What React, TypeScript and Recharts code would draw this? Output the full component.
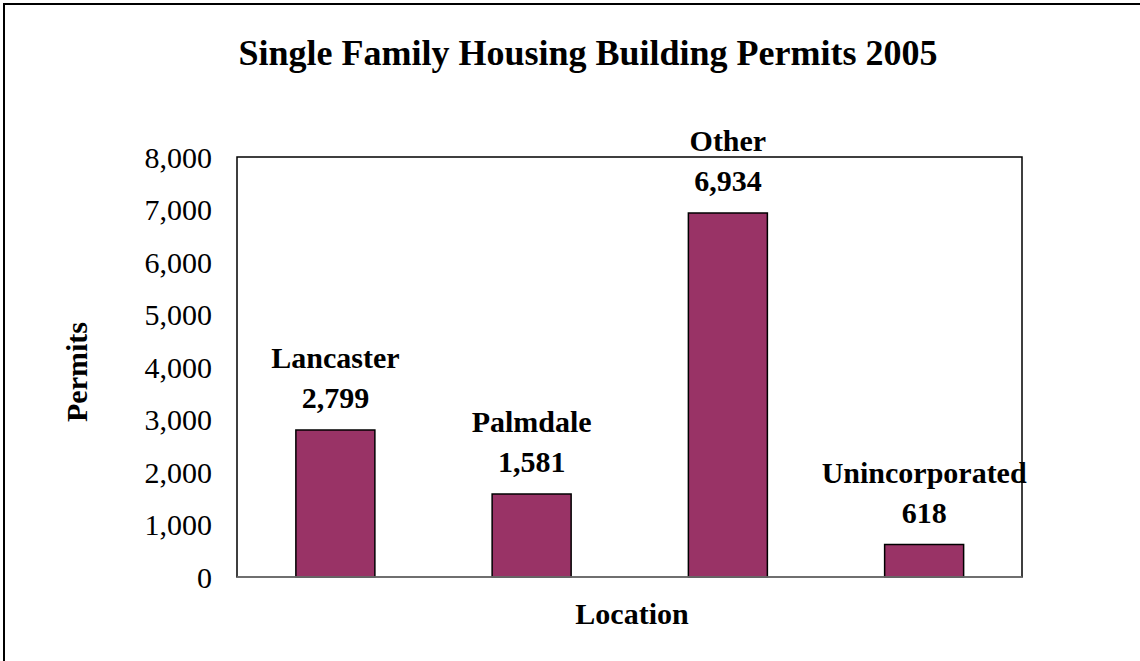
import { BarChart, Bar, XAxis, YAxis, LabelList, ReferenceArea, ReferenceLine } from 'recharts';

const locations = ['Lancaster', 'Palmdale', 'Other', 'Unincorporated'];
const permits = [2799, 1581, 6934, 618];
const yTicks = [0, 1000, 2000, 3000, 4000, 5000, 6000, 7000, 8000];

const data = locations.map((name, i) => ({ name, permits: permits[i] }));

const FONT = '"Liberation Serif", "Times New Roman", serif';

// two line label above each bar: location name, then the count
function BarLabel(props: any) {
  const { x, y, width, index, value } = props;
  const cx = x + width / 2;
  return (
    <g>
      <text
        x={cx}
        y={y - 62}
        textAnchor="middle"
        fontFamily={FONT}
        fontWeight="bold"
        fontSize={30}
        fill="#000"
      >
        {locations[index]}
      </text>
      <text
        x={cx}
        y={y - 22}
        textAnchor="middle"
        fontFamily={FONT}
        fontWeight="bold"
        fontSize={30}
        fill="#000"
      >
        {Number(value).toLocaleString('en-US')}
      </text>
    </g>
  );
}

export default function App() {
  return (
    <div
      style={{
        position: 'absolute',
        left: 0,
        top: 0,
        width: 1140,
        height: 661,
        background: '#fff',
        overflow: 'hidden',
      }}
    >
      <div
        style={{
          position: 'absolute',
          left: 3,
          top: 3,
          width: 1200,
          height: 700,
          borderLeft: '2px solid #000',
          borderTop: '2px solid #000',
        }}
      />
      <BarChart
        width={1140}
        height={661}
        data={data}
        margin={{ top: 157, right: 118, bottom: 84, left: 0 }}
        barCategoryGap="30%"
      >
        <XAxis dataKey="name" hide />
        <YAxis
          width={237}
          domain={[0, 8000]}
          ticks={yTicks}
          interval={0}
          tickLine={false}
          tickSize={0}
          tickMargin={25}
          axisLine={false}
          tickFormatter={(v: number) => v.toLocaleString('en-US')}
          tick={{ fontFamily: FONT, fontSize: 30, fill: '#000' }}
        />
        {/* plot area frame */}
        <ReferenceArea
          y1={0}
          y2={8000}
          fill="none"
          stroke="#000"
          strokeWidth={1.5}
          fillOpacity={0}
        />
        <ReferenceLine y={0} stroke="#808080" strokeWidth={1.5} />
        <Bar
          dataKey="permits"
          fill="#993366"
          stroke="#000"
          strokeWidth={1.5}
          isAnimationActive={false}
        >
          <LabelList dataKey="permits" content={<BarLabel />} />
        </Bar>
      </BarChart>
      <svg
        width={1140}
        height={661}
        style={{ position: 'absolute', left: 0, top: 0, pointerEvents: 'none' }}
      >
        <text
          x={588}
          y={65}
          textAnchor="middle"
          fontFamily={FONT}
          fontWeight="bold"
          fontSize={36}
          fill="#000"
        >
          Single Family Housing Building Permits 2005
        </text>
        <text
          x={632}
          y={624}
          textAnchor="middle"
          fontFamily={FONT}
          fontWeight="bold"
          fontSize={30}
          fill="#000"
        >
          Location
        </text>
        <text
          x={87}
          y={372}
          textAnchor="middle"
          transform="rotate(-90 87 372)"
          fontFamily={FONT}
          fontWeight="bold"
          fontSize={30}
          fill="#000"
        >
          Permits
        </text>
      </svg>
    </div>
  );
}
